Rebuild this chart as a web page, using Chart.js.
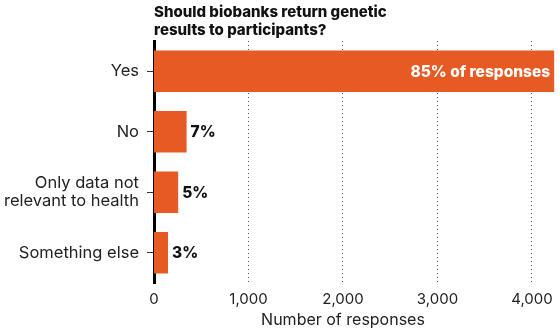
<!DOCTYPE html>
<html lang="en">
<head>
<meta charset="UTF-8">
<title>Biobank genetic results</title>
<script src="https://cdn.jsdelivr.net/npm/chart.js"></script>
<style>
  html, body { margin: 0; padding: 0; background: #fff; }
  #wrap { width: 560px; height: 331px; }
</style>
</head>
<body>
<div id="wrap"><canvas id="chart"></canvas></div>
<script>
// data
const categories = ['Yes', 'No', ['Only data not', 'relevant to health'], 'Something else'];
const responses = [4235, 345, 256, 148];
const shareLabels = ['85% of responses', '7%', '5%', '3%'];
const xTicks = [0, 1000, 2000, 3000, 4000];

const FONT = 'Inter, "DejaVu Sans", sans-serif';
const ORANGE = '#E85A24';

// percentage labels: white inside the big bar, black just past the small ones
const barLabels = {
  id: 'barLabels',
  afterDatasetsDraw(chart) {
    const ctx = chart.ctx;
    const bars = chart.getDatasetMeta(0).data;
    ctx.save();
    ctx.font = '800 15.5px ' + FONT;
    ctx.textBaseline = 'middle';
    bars.forEach((bar, i) => {
      if (i === 0) {
        ctx.fillStyle = '#fff';
        ctx.textAlign = 'right';
        ctx.fillText(shareLabels[i], bar.x - 4, bar.y + 1);
      } else {
        ctx.fillStyle = '#111';
        ctx.textAlign = 'left';
        ctx.fillText(shareLabels[i], bar.x + 4, bar.y + 1);
      }
    });
    ctx.restore();
  }
};

// axis title centred under the 0-4,000 range
const axisTitle = {
  id: 'axisTitle',
  afterDraw(chart) {
    const x = chart.scales.x;
    const ctx = chart.ctx;
    ctx.save();
    ctx.font = '16px ' + FONT;
    ctx.fillStyle = '#222';
    ctx.textAlign = 'center';
    ctx.textBaseline = 'middle';
    const mid = (x.getPixelForValue(xTicks[0]) + x.getPixelForValue(xTicks[xTicks.length - 1])) / 2;
    ctx.fillText('Number of responses', mid, x.bottom - 11);
    ctx.restore();
  }
};

new Chart(document.getElementById('chart'), {
  type: 'bar',
  data: {
    labels: categories,
    datasets: [{
      data: responses,
      backgroundColor: ORANGE,
      borderWidth: 0,
      barPercentage: 0.69,
      categoryPercentage: 1
    }]
  },
  options: {
    indexAxis: 'y',
    responsive: true,
    maintainAspectRatio: false,
    animation: false,
    layout: { padding: { top: 3, right: 4, left: 0, bottom: 0 } },
    plugins: {
      legend: { display: false },
      tooltip: { enabled: false },
      title: {
        display: true,
        text: ['Should biobanks return genetic', 'results to participants?'],
        align: 'start',
        fullSize: false,
        color: '#111',
        font: { family: FONT, size: 15, weight: '800', lineHeight: 1.2 },
        padding: { top: 0, bottom: 2 }
      }
    },
    scales: {
      x: {
        min: 0,
        max: 4250,
        afterBuildTicks(s) { s.ticks = xTicks.map(v => ({ value: v })); },
        afterFit(s) { s.height = 48; },
        border: { display: false, dash: [1, 3] },
        grid: {
          color: '#555',
          lineWidth: ctx => ctx.tick && ctx.tick.value === 0 ? 0 : 1,
          drawTicks: false
        },
        ticks: {
          color: '#222',
          font: { family: FONT, size: 15 },
          padding: 7,
          maxRotation: 0,
          callback: v => v.toLocaleString('en-US')
        }
      },
      y: {
        afterFit(s) { s.width = 154; },
        border: { display: true, color: '#000', width: 3 },
        grid: {
          display: true,
          offset: false,
          drawOnChartArea: false,
          drawTicks: true,
          tickLength: 7,
          color: '#333'
        },
        ticks: {
          color: '#222',
          font: { family: FONT, size: 16.5, lineHeight: 1.12 },
          padding: 8
        }
      }
    }
  },
  plugins: [barLabels, axisTitle]
});
</script>
</body>
</html>
